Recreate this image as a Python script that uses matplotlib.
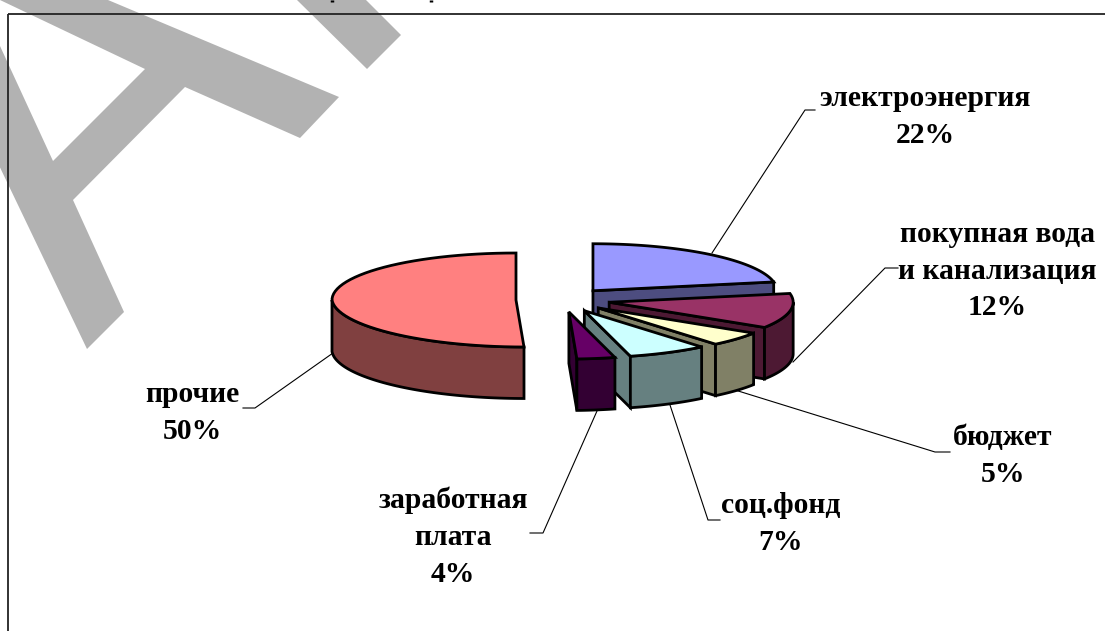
import numpy as np
import matplotlib
matplotlib.use('Agg')
import matplotlib.pyplot as plt
from matplotlib.patches import Polygon

plt.rcParams['font.family'] = ['Liberation Serif', 'DejaVu Serif']

# Pie data, clockwise from 12 o'clock
categories = ['электроэнергия', 'покупная вода\nи канализация', 'бюджет', 'соц.фонд', 'заработная\nплата', 'прочие']
shares = [22, 12, 5, 7, 4, 50]
top_colors = ['#9999FF', '#993366', '#FFFFCC', '#CCFFFF', '#660066', '#FF8080']
side_colors = ['#4D4D80', '#4D1933', '#808066', '#668080', '#330033', '#804040']

# label centre and leader line, in pixels
label_pos = [(925, 117), (997, 271), (1003, 456), (781, 524), (453, 537), (192, 413)]
leaders = [
    [(712, 253), (805, 110), (815, 110)],
    [(793, 362), (885, 268), (898, 268)],
    [(735, 390), (935, 452), (950, 452)],
    [(670, 405), (708, 520), (720, 520)],
    [(597, 411), (543, 533), (530, 533)],
    [(333, 353), (255, 408), (243, 408)],
]

# pie geometry
cx0, cy0 = 563, 300
rx, ry = 184, 47
explode = 47
depth = 51.5
skew = 8

fig = plt.figure(figsize=(11.05, 6.31), dpi=100)
ax = fig.add_axes([0, 0, 1, 1])
ax.set_xlim(0, 1105)
ax.set_ylim(631, 0)
ax.axis('off')

# watermark
grey = '#B2B2B2'
ax.add_patch(Polygon([(-5, -8), (0, 0), (145, 69), (53, 161), (0, 46), (-5, 157), (87, 349), (124, 312),
                      (73, 200), (185, 87), (300, 138), (339, 97), (108, 0), (-5, 0)],
                     closed=True, fc=grey, ec='none', zorder=1))
ax.add_patch(Polygon([(297, 0), (367, 69), (401, 35), (366, 0)], closed=True, fc=grey, ec='none', zorder=1))

# frame
ax.plot([8, 8], [631, 14], color='#222222', lw=1.3, zorder=2, solid_capstyle='butt')
ax.plot([8, 1105], [14, 14], color='#222222', lw=1.3, zorder=2, solid_capstyle='butt')

# bottoms of the cut off title line
ax.plot([332, 332], [0, 1.5], color='black', lw=2.5, zorder=2, solid_capstyle='butt')
ax.plot([431, 431], [0, 1.5], color='black', lw=2.5, zorder=2, solid_capstyle='butt')


def rim(center, a):
    # point on the rim at angle a (degrees clockwise from 12 o'clock)
    t = np.radians(a)
    lean = skew * max(0, -np.cos(t)) * (min(a, 180) / 180) ** 40
    x = center[0] + rx * np.sin(t) + lean
    y = center[1] - ry * np.cos(t)
    return np.column_stack([x, y])


def rim_arc(center, a0, a1):
    return np.vstack([rim(center, a) for a in np.linspace(a0, a1, 60)])


def draw_slice(a0, a1, top, side):
    mid = np.radians((a0 + a1) / 2)
    center = (cx0 + explode * np.sin(mid), cy0 - explode * ry / rx * np.cos(mid))
    edge = dict(ec='black', lw=2, joinstyle='miter', zorder=3)
    drop = np.array([0, depth])
    c = np.array(center)
    # cut face at the end of the slice
    end = rim(center, a1)[0]
    if np.cos(np.radians(a1)) < 0.3:
        ax.add_patch(Polygon([c, end, end + drop, c + drop], closed=True, fc=side, **edge))
    # outer wall, front half only
    w0, w1 = max(a0, 90), min(a1, 270)
    if w1 > w0:
        arc = rim_arc(center, w0, w1)
        ax.add_patch(Polygon(np.vstack([arc, (arc + drop)[::-1]]), closed=True, fc=side, **edge))
    ax.add_patch(Polygon(np.vstack([c, rim_arc(center, a0, a1)]), closed=True, fc=top, **edge))


angles = np.cumsum([0] + shares) * 3.6
for i in [5, 0, 1, 2, 3, 4]:
    draw_slice(angles[i], angles[i + 1], top_colors[i], side_colors[i])

for cat, val, pos, line in zip(categories, shares, label_pos, leaders):
    ax.text(pos[0], pos[1], f'{cat}\n{val}%', ha='center', va='center', fontsize=21.3,
            fontweight='bold', linespacing=1.47, color='black', zorder=5)
    xs, ys = zip(*line)
    ax.plot(xs, ys, color='black', lw=0.8, zorder=2)

fig.savefig('out.png', dpi=100)
